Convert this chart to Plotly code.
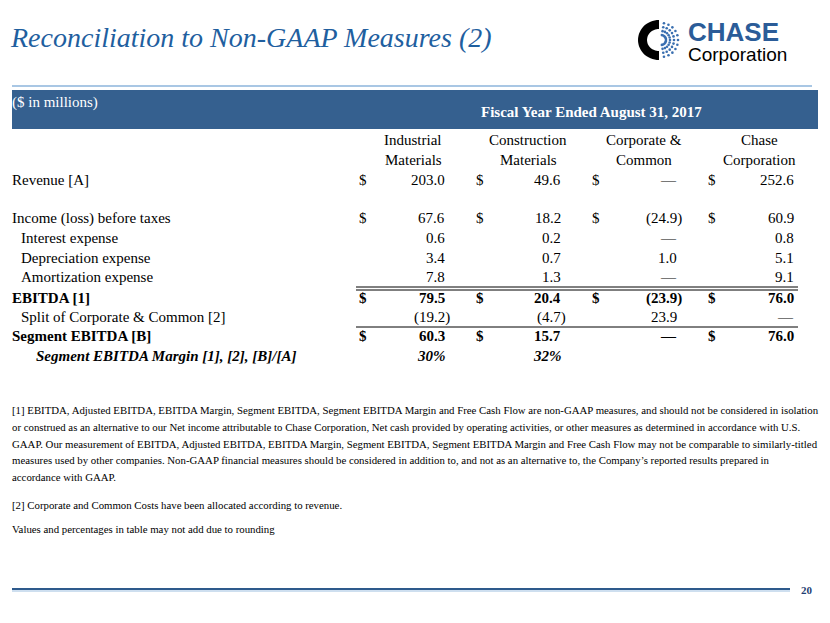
import math

import plotly.graph_objects as go

W, H = 830, 623
PAD = 8  # default body margin of the html page

TITLE = "Reconciliation to Non-GAAP Measures (2)"
BAND_LEFT = "($ in millions)"
BAND_RIGHT = "Fiscal Year Ended August 31, 2017"

col_heads = [
    ("Industrial", "Materials"),
    ("Construction", "Materials"),
    ("Corporate &", "Common"),
    ("Chase", "Corporation"),
]

row_labels = [
    "Revenue [A]",
    "Income (loss) before taxes",
    "Interest expense",
    "Depreciation expense",
    "Amortization expense",
    "EBITDA [1]",
    "Split of Corporate & Common [2]",
    "Segment EBITDA [B]",
]
# None -> em dash
industrial = [203.0, 67.6, 0.6, 3.4, 7.8, 79.5, -19.2, 60.3]
construction = [49.6, 18.2, 0.2, 0.7, 1.3, 20.4, -4.7, 15.7]
corporate = [None, -24.9, None, 1.0, None, -23.9, 23.9, None]
chase_total = [252.6, 60.9, 0.8, 5.1, 9.1, 76.0, None, 76.0]

margin_label = "Segment EBITDA Margin [1], [2], [B]/[A]"
margin_values = ["30%", "32%", "", ""]

# which rows carry a "$" in each column
dollar_rows = [
    [True, True, False, False, False, True, False, True],
    [True, True, False, False, False, True, False, True],
    [True, True, False, False, False, True, False, False],
    [True, True, False, False, False, True, False, True],
]
bold_rows = [False, False, False, False, False, True, False, True]
indent_rows = [False, False, True, True, True, False, True, False]

footnotes = [
    "[1] EBITDA, Adjusted EBITDA, EBITDA Margin, Segment EBITDA, Segment EBITDA Margin and Free Cash Flow are non-GAAP measures, and should not be considered in isolation",
    "or construed as an alternative to our Net income attributable to Chase Corporation, Net cash provided by operating activities, or other measures as determined in accordance with U.S.",
    "GAAP. Our measurement of EBITDA, Adjusted EBITDA, EBITDA Margin, Segment EBITDA, Segment EBITDA Margin and Free Cash Flow may not be comparable to similarly-titled",
    "measures used by other companies. Non-GAAP financial measures should be considered in addition to, and not as an alternative to, the Company\u2019s reported results prepared in",
    "accordance with GAAP.",
]
footnote2 = "[2] Corporate and Common Costs have been allocated according to revenue."
footnote3 = "Values and percentages in table may not add due to rounding"
PAGE = "20"

SERIF = "Liberation Serif, Times New Roman, serif"
SANS = "Liberation Sans, Arial, sans-serif"
BLUE = "#1f5f9f"
BAND = "#35608f"

row_y = [180, 218, 238, 258, 277, 298, 317, 336]
margin_y = 356
dollar_x = [357, 474, 590, 706]
right_x = [447, 563, 679, 796]
head_x = [413, 528, 644, 759]


def fmt(v):
    if v is None:
        return "\u2014"
    if v < 0:
        return f"({abs(v):.1f})"
    return f"{v:.1f}"


ann = []


def text(x, y, s, size=15, color="black", anchor="left", family=SERIF, bold=False, italic=False):
    if bold:
        s = f"<b>{s}</b>"
    if italic:
        s = f"<i>{s}</i>"
    ann.append(dict(x=x, y=y, xref="x", yref="y", text=s, showarrow=False,
                    xanchor=anchor, yanchor="middle",
                    font=dict(family=family, size=size, color=color)))


shapes = []


def hline(x0, x1, y, color, width=1):
    shapes.append(dict(type="line", xref="x", yref="y", x0=x0, x1=x1, y0=y, y1=y,
                       line=dict(color=color, width=width)))


# title + rules
text(8, 37, TITLE, size=28, color=BLUE, italic=True)
hline(12, 812, 86, "#a9c7e4", 2)
hline(12, 790, 589, "#2e5a8c", 2)
hline(12, 790, 591, "#9dbfe0", 1)
text(815, 590, PAGE, size=11, color="#1f3f73", anchor="right", bold=True)

# header band
shapes.append(dict(type="rect", xref="x", yref="y", x0=12, x1=818, y0=90, y1=129,
                   fillcolor=BAND, line=dict(width=0), layer="below"))
text(10, 102, BAND_LEFT, size=15, color="white")
text(591, 112, BAND_RIGHT, size=15, color="white", anchor="center", bold=True)

for (a, b), cx in zip(col_heads, head_x):
    text(cx, 140, a, anchor="center")
    text(cx, 160, b, anchor="center")

cols = [industrial, construction, corporate, chase_total]
for i, lab in enumerate(row_labels):
    y = row_y[i]
    text(19 if indent_rows[i] else 10, y, lab, bold=bold_rows[i])
    for c, vals in enumerate(cols):
        v = vals[i]
        s = fmt(v)
        x = right_x[c] + (5 if (v is not None and v < 0) else 0)
        text(x, y, s, anchor="right", bold=bold_rows[i])
        if dollar_rows[c][i]:
            text(dollar_x[c], y, "$", bold=bold_rows[i])

text(34, margin_y, margin_label, bold=True, italic=True)
for c, s in enumerate(margin_values):
    if s:
        text(right_x[c] + 1, margin_y, s, anchor="right", bold=True, italic=True)

# table rules
hline(356, 798, 287, "black", 1)
hline(356, 798, 290, "black", 1)
hline(356, 798, 327, "black", 1)

# footnotes
fy = 410
for line in footnotes:
    text(10, fy, line, size=10.8)
    fy += 16.8
text(10, 505, footnote2, size=10.8)
text(10, 529, footnote3, size=10.8)

# logo: black C and blue dot burst
cx, cy = 659, 40
pts = []
for k in range(0, 181, 6):
    a = math.radians(90 + k)
    pts.append((cx + 21 * math.cos(a), cy - 20 * math.sin(a)))
for k in range(180, -1, -6):
    a = math.radians(90 + k)
    pts.append((cx + 12 * math.cos(a), cy - 11 * math.sin(a)))
path = "M " + " L ".join(f"{x:.1f},{y:.1f}" for x, y in pts) + " Z"
shapes.append(dict(type="path", xref="x", yref="y", path=path,
                   fillcolor="black", line=dict(width=0)))

dx, dy = [], []
for r in (5, 9, 13, 17):
    for k in range(-80, 81, 16):
        a = math.radians(k)
        dx.append(cx + 2 + r * math.cos(a))
        dy.append(cy - r * math.sin(a))

ann.append(dict(x=686, y=41, xref="x", yref="y", showarrow=False,
                xanchor="left", yanchor="middle", align="left",
                text="<b><span style='color:#2b5c98;font-size:26px'>CHASE</span></b>"
                     "<br><span style='font-size:19px'>Corporation</span>",
                font=dict(family=SANS, size=15, color="black")))

fig = go.Figure()
fig.add_trace(go.Scatter(x=dx, y=dy, mode="markers", hoverinfo="skip",
                         marker=dict(size=2.6, color="#3a6fb0")))
fig.update_layout(
    width=W - 2 * PAD, height=H - 2 * PAD,
    margin=dict(l=0, r=0, t=0, b=0),
    paper_bgcolor="white", plot_bgcolor="white",
    showlegend=False,
    xaxis=dict(range=[PAD, W - PAD], visible=False, fixedrange=True),
    yaxis=dict(range=[H - PAD, PAD], visible=False, fixedrange=True),
    annotations=ann, shapes=shapes,
)
fig.write_html("out.html")
